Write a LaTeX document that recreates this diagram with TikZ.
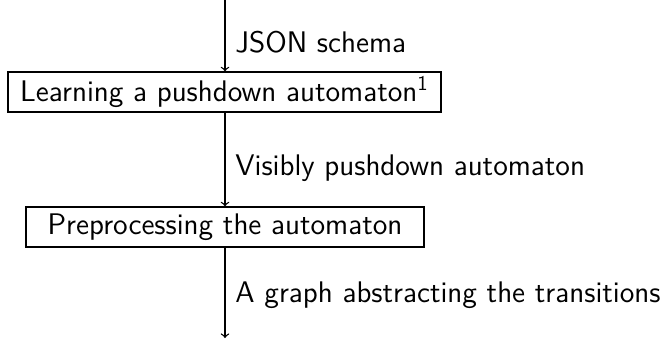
\documentclass[tikz,border=0pt]{standalone}
\usepackage{fontspec}
\begin{document}
\begin{tikzpicture}[x=0.5pt,y=-0.5pt,
  every node/.style={font=\sffamily\fontsize{14.9}{17}\selectfont},
  stage/.style={draw,line width=0.65pt,inner sep=0pt,minimum height=20pt,anchor=center},
  lbl/.style={anchor=west,inner sep=0pt},
  flow/.style={->,line width=0.65pt}]
\useasboundingbox (0,0) rectangle (664,338);
\coordinate (top) at (225,0);
\coordinate (bot) at (225,338);
\node[stage,minimum width=216.5pt] (learn) at (224.5,92) {Learning a pushdown automaton\textsuperscript{1}};
\node[stage,minimum width=199pt] (prep) at (225,227) {Preprocessing the automaton};
\draw[flow] (top) -- (top |- learn.north);
\draw[flow] (learn.south -| top) -- (prep.north -| top);
\draw[flow] (prep.south -| top) -- (bot);
\node[lbl] (l1) at (235,42) {JSON schema};
\node[lbl] (l2) at (235,168) {Visibly pushdown automaton};
\node[lbl] (l3) at (235,295) {A graph abstracting the transitions};
\end{tikzpicture}
\end{document}
